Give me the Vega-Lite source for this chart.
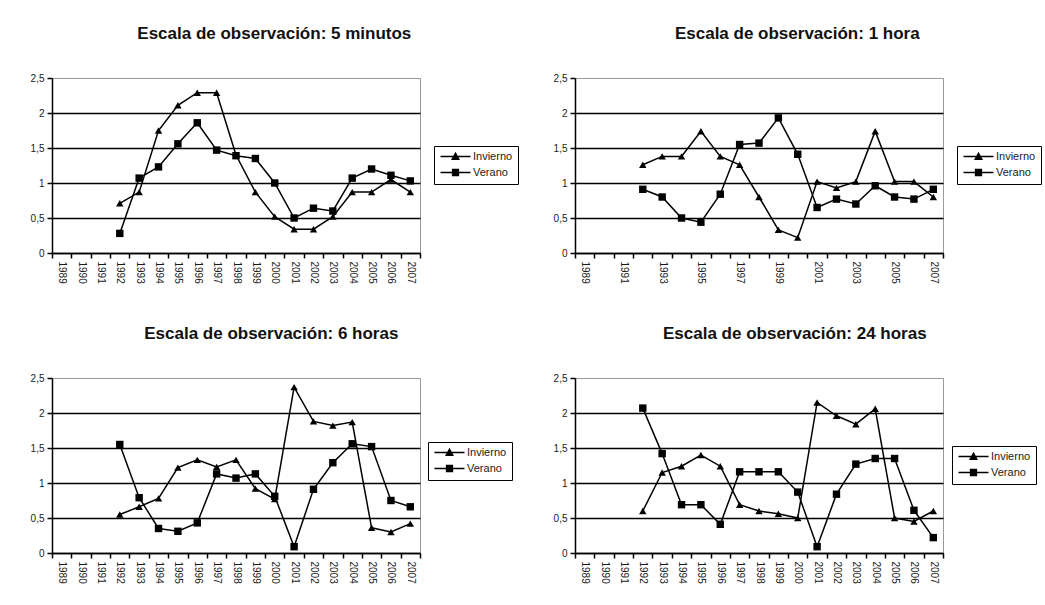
{
  "$schema": "https://vega.github.io/schema/vega-lite/v6.json",
  "padding": {"left": 29, "top": 24, "right": 0, "bottom": 0},
  "datasets": {
    "d": [
      {"p":1,"y":1992,"Invierno":0.71,"Verano":0.28},
      {"p":1,"y":1993,"Invierno":0.87,"Verano":1.07},
      {"p":1,"y":1994,"Invierno":1.75,"Verano":1.23},
      {"p":1,"y":1995,"Invierno":2.11,"Verano":1.56},
      {"p":1,"y":1996,"Invierno":2.29,"Verano":1.86},
      {"p":1,"y":1997,"Invierno":2.29,"Verano":1.47},
      {"p":1,"y":1998,"Invierno":1.40,"Verano":1.39},
      {"p":1,"y":1999,"Invierno":0.87,"Verano":1.35},
      {"p":1,"y":2000,"Invierno":0.52,"Verano":1.00},
      {"p":1,"y":2001,"Invierno":0.34,"Verano":0.50},
      {"p":1,"y":2002,"Invierno":0.34,"Verano":0.64},
      {"p":1,"y":2003,"Invierno":0.52,"Verano":0.60},
      {"p":1,"y":2004,"Invierno":0.87,"Verano":1.07},
      {"p":1,"y":2005,"Invierno":0.87,"Verano":1.20},
      {"p":1,"y":2006,"Invierno":1.05,"Verano":1.11},
      {"p":1,"y":2007,"Invierno":0.87,"Verano":1.03},
      {"p":2,"y":1992,"Invierno":1.26,"Verano":0.91},
      {"p":2,"y":1993,"Invierno":1.38,"Verano":0.80},
      {"p":2,"y":1994,"Invierno":1.38,"Verano":0.50},
      {"p":2,"y":1995,"Invierno":1.74,"Verano":0.44},
      {"p":2,"y":1996,"Invierno":1.38,"Verano":0.84},
      {"p":2,"y":1997,"Invierno":1.26,"Verano":1.55},
      {"p":2,"y":1998,"Invierno":0.80,"Verano":1.57},
      {"p":2,"y":1999,"Invierno":0.33,"Verano":1.93},
      {"p":2,"y":2000,"Invierno":0.22,"Verano":1.41},
      {"p":2,"y":2001,"Invierno":1.02,"Verano":0.65},
      {"p":2,"y":2002,"Invierno":0.93,"Verano":0.77},
      {"p":2,"y":2003,"Invierno":1.02,"Verano":0.70},
      {"p":2,"y":2004,"Invierno":1.74,"Verano":0.96},
      {"p":2,"y":2005,"Invierno":1.02,"Verano":0.80},
      {"p":2,"y":2006,"Invierno":1.02,"Verano":0.77},
      {"p":2,"y":2007,"Invierno":0.80,"Verano":0.91},
      {"p":3,"y":1992,"Invierno":0.55,"Verano":1.55},
      {"p":3,"y":1993,"Invierno":0.66,"Verano":0.79},
      {"p":3,"y":1994,"Invierno":0.78,"Verano":0.35},
      {"p":3,"y":1995,"Invierno":1.22,"Verano":0.31},
      {"p":3,"y":1996,"Invierno":1.33,"Verano":0.43},
      {"p":3,"y":1997,"Invierno":1.23,"Verano":1.13},
      {"p":3,"y":1998,"Invierno":1.33,"Verano":1.07},
      {"p":3,"y":1999,"Invierno":0.92,"Verano":1.13},
      {"p":3,"y":2000,"Invierno":0.77,"Verano":0.81},
      {"p":3,"y":2001,"Invierno":2.37,"Verano":0.09},
      {"p":3,"y":2002,"Invierno":1.88,"Verano":0.91},
      {"p":3,"y":2003,"Invierno":1.82,"Verano":1.29},
      {"p":3,"y":2004,"Invierno":1.87,"Verano":1.56},
      {"p":3,"y":2005,"Invierno":0.36,"Verano":1.52},
      {"p":3,"y":2006,"Invierno":0.30,"Verano":0.75},
      {"p":3,"y":2007,"Invierno":0.42,"Verano":0.66},
      {"p":4,"y":1992,"Invierno":0.60,"Verano":2.07},
      {"p":4,"y":1993,"Invierno":1.15,"Verano":1.42},
      {"p":4,"y":1994,"Invierno":1.24,"Verano":0.69},
      {"p":4,"y":1995,"Invierno":1.40,"Verano":0.69},
      {"p":4,"y":1996,"Invierno":1.24,"Verano":0.41},
      {"p":4,"y":1997,"Invierno":0.69,"Verano":1.16},
      {"p":4,"y":1998,"Invierno":0.60,"Verano":1.16},
      {"p":4,"y":1999,"Invierno":0.56,"Verano":1.16},
      {"p":4,"y":2000,"Invierno":0.50,"Verano":0.87},
      {"p":4,"y":2001,"Invierno":2.15,"Verano":0.09},
      {"p":4,"y":2002,"Invierno":1.96,"Verano":0.84},
      {"p":4,"y":2003,"Invierno":1.84,"Verano":1.27},
      {"p":4,"y":2004,"Invierno":2.06,"Verano":1.35},
      {"p":4,"y":2005,"Invierno":0.50,"Verano":1.35},
      {"p":4,"y":2006,"Invierno":0.45,"Verano":0.61},
      {"p":4,"y":2007,"Invierno":0.60,"Verano":0.22}
    ]
  },
  "data": {"name": "d"},
  "columns": 2,
  "spacing": {"row": 40, "column": 33},
  "resolve": {"scale": {"shape": "independent"}, "legend": {"shape": "independent"}},
  "concat": [
    {
      "title": "Escala de observación: 5 minutos",
      "width": 368, "height": 175,
      "transform": [{"filter": "datum.p == 1"}, {"fold": ["Invierno", "Verano"], "as": ["s", "v"]}],
      "encoding": {
        "x": {"field": "y", "type": "ordinal", "scale": {"type": "band", "domain": [1989,1990,1991,1992,1993,1994,1995,1996,1997,1998,1999,2000,2001,2002,2003,2004,2005,2006,2007], "paddingInner": 0, "paddingOuter": 0}, "axis": {"title": null, "labelAngle": 90, "tickBand": "extent"}},
        "y": {"field": "v", "type": "quantitative", "scale": {"domain": [0, 2.5]}, "axis": {"title": null, "values": [0,0.5,1,1.5,2,2.5], "format": "~g", "labelExpr": "replace(datum.label, '.', ',')", "grid": true, "gridColor": {"condition": {"test": "datum.value >= 2.5", "value": "#9a9a9a"}, "value": "black"}, "gridWidth": {"condition": {"test": "datum.value >= 2.5", "value": 1}, "value": 1.6}}}
      },
      "resolve": {"scale": {"shape": "independent"}, "legend": {"shape": "independent"}},
      "layer": [
        {"mark": {"type": "line", "color": "black", "strokeWidth": 1.5}, "encoding": {"detail": {"field": "s"}}},
        {"mark": {"type": "point", "filled": true, "color": "black", "size": 55, "opacity": 1},
         "encoding": {"shape": {"field": "s", "type": "nominal", "scale": {"domain": ["Invierno", "Verano"], "range": ["triangle-up", "square"]}, "legend": null}}},
        {"mark": {"type": "point", "filled": false, "color": "black", "strokeWidth": 1.3, "opacity": 0},
         "encoding": {"shape": {"field": "s", "type": "nominal", "scale": {"domain": ["Invierno", "Verano"], "range": ["M-3.75,0H3.75M-0.85,0.7L0,-0.85L0.85,0.7ZM-0.68,0.4H0.68M-0.52,0.1H0.52M-0.36,-0.2H0.36M-0.19,-0.5H0.19", "M-3.75,0H3.75M-0.75,-0.75H0.75V0.75H-0.75ZM-0.75,-0.45H0.75M-0.75,-0.15H0.75M-0.75,0.15H0.75M-0.75,0.45H0.75"]},
           "legend": {"orient": "none", "legendX": 382, "legendY": 68, "symbolOpacity": 1, "symbolStrokeColor": "black", "symbolStrokeWidth": 1.3}}}}
      ]
    },
    {
      "title": "Escala de observación: 1 hora",
      "width": 368, "height": 175,
      "transform": [{"filter": "datum.p == 2"}, {"fold": ["Invierno", "Verano"], "as": ["s", "v"]}],
      "encoding": {
        "x": {"field": "y", "type": "ordinal", "scale": {"type": "band", "domain": [1989,1990,1991,1992,1993,1994,1995,1996,1997,1998,1999,2000,2001,2002,2003,2004,2005,2006,2007], "paddingInner": 0, "paddingOuter": 0}, "axis": {"title": null, "labelAngle": 90, "tickBand": "extent", "labelExpr": "datum.value % 2 == 1 ? datum.label : ''"}},
        "y": {"field": "v", "type": "quantitative", "scale": {"domain": [0, 2.5]}, "axis": {"title": null, "values": [0,0.5,1,1.5,2,2.5], "format": "~g", "labelExpr": "replace(datum.label, '.', ',')", "grid": true, "gridColor": {"condition": {"test": "datum.value >= 2.5", "value": "#9a9a9a"}, "value": "black"}, "gridWidth": {"condition": {"test": "datum.value >= 2.5", "value": 1}, "value": 1.6}}}
      },
      "resolve": {"scale": {"shape": "independent"}, "legend": {"shape": "independent"}},
      "layer": [
        {"mark": {"type": "line", "color": "black", "strokeWidth": 1.5}, "encoding": {"detail": {"field": "s"}}},
        {"mark": {"type": "point", "filled": true, "color": "black", "size": 55, "opacity": 1},
         "encoding": {"shape": {"field": "s", "type": "nominal", "scale": {"domain": ["Invierno", "Verano"], "range": ["triangle-up", "square"]}, "legend": null}}},
        {"mark": {"type": "point", "filled": false, "color": "black", "strokeWidth": 1.3, "opacity": 0},
         "encoding": {"shape": {"field": "s", "type": "nominal", "scale": {"domain": ["Invierno", "Verano"], "range": ["M-3.75,0H3.75M-0.85,0.7L0,-0.85L0.85,0.7ZM-0.68,0.4H0.68M-0.52,0.1H0.52M-0.36,-0.2H0.36M-0.19,-0.5H0.19", "M-3.75,0H3.75M-0.75,-0.75H0.75V0.75H-0.75ZM-0.75,-0.45H0.75M-0.75,-0.15H0.75M-0.75,0.15H0.75M-0.75,0.45H0.75"]},
           "legend": {"orient": "none", "legendX": 382, "legendY": 68, "symbolOpacity": 1, "symbolStrokeColor": "black", "symbolStrokeWidth": 1.3}}}}
      ]
    },
    {
      "title": "Escala de observación: 6 horas",
      "width": 368, "height": 175,
      "transform": [{"filter": "datum.p == 3"}, {"fold": ["Invierno", "Verano"], "as": ["s", "v"]}],
      "encoding": {
        "x": {"field": "y", "type": "ordinal", "scale": {"type": "band", "domain": [1989,1990,1991,1992,1993,1994,1995,1996,1997,1998,1999,2000,2001,2002,2003,2004,2005,2006,2007], "paddingInner": 0, "paddingOuter": 0}, "axis": {"title": null, "labelAngle": 90, "tickBand": "extent"}},
        "y": {"field": "v", "type": "quantitative", "scale": {"domain": [0, 2.5]}, "axis": {"title": null, "values": [0,0.5,1,1.5,2,2.5], "format": "~g", "labelExpr": "replace(datum.label, '.', ',')", "grid": true, "gridColor": {"condition": {"test": "datum.value >= 2.5", "value": "#9a9a9a"}, "value": "black"}, "gridWidth": {"condition": {"test": "datum.value >= 2.5", "value": 1}, "value": 1.6}}}
      },
      "resolve": {"scale": {"shape": "independent"}, "legend": {"shape": "independent"}},
      "layer": [
        {"mark": {"type": "line", "color": "black", "strokeWidth": 1.5}, "encoding": {"detail": {"field": "s"}}},
        {"mark": {"type": "point", "filled": true, "color": "black", "size": 55, "opacity": 1},
         "encoding": {"shape": {"field": "s", "type": "nominal", "scale": {"domain": ["Invierno", "Verano"], "range": ["triangle-up", "square"]}, "legend": null}}},
        {"mark": {"type": "point", "filled": false, "color": "black", "strokeWidth": 1.3, "opacity": 0},
         "encoding": {"shape": {"field": "s", "type": "nominal", "scale": {"domain": ["Invierno", "Verano"], "range": ["M-3.75,0H3.75M-0.85,0.7L0,-0.85L0.85,0.7ZM-0.68,0.4H0.68M-0.52,0.1H0.52M-0.36,-0.2H0.36M-0.19,-0.5H0.19", "M-3.75,0H3.75M-0.75,-0.75H0.75V0.75H-0.75ZM-0.75,-0.45H0.75M-0.75,-0.15H0.75M-0.75,0.15H0.75M-0.75,0.45H0.75"]},
           "legend": {"orient": "none", "legendX": 376, "legendY": 64, "symbolOpacity": 1, "symbolStrokeColor": "black", "symbolStrokeWidth": 1.3}}}}
      ]
    },
    {
      "title": "Escala de observación: 24 horas",
      "width": 368, "height": 175,
      "transform": [{"filter": "datum.p == 4"}, {"fold": ["Invierno", "Verano"], "as": ["s", "v"]}],
      "encoding": {
        "x": {"field": "y", "type": "ordinal", "scale": {"type": "band", "domain": [1989,1990,1991,1992,1993,1994,1995,1996,1997,1998,1999,2000,2001,2002,2003,2004,2005,2006,2007], "paddingInner": 0, "paddingOuter": 0}, "axis": {"title": null, "labelAngle": 90, "tickBand": "extent"}},
        "y": {"field": "v", "type": "quantitative", "scale": {"domain": [0, 2.5]}, "axis": {"title": null, "values": [0,0.5,1,1.5,2,2.5], "format": "~g", "labelExpr": "replace(datum.label, '.', ',')", "grid": true, "gridColor": {"condition": {"test": "datum.value >= 2.5", "value": "#9a9a9a"}, "value": "black"}, "gridWidth": {"condition": {"test": "datum.value >= 2.5", "value": 1}, "value": 1.6}}}
      },
      "resolve": {"scale": {"shape": "independent"}, "legend": {"shape": "independent"}},
      "layer": [
        {"mark": {"type": "line", "color": "black", "strokeWidth": 1.5}, "encoding": {"detail": {"field": "s"}}},
        {"mark": {"type": "point", "filled": true, "color": "black", "size": 55, "opacity": 1},
         "encoding": {"shape": {"field": "s", "type": "nominal", "scale": {"domain": ["Invierno", "Verano"], "range": ["triangle-up", "square"]}, "legend": null}}},
        {"mark": {"type": "point", "filled": false, "color": "black", "strokeWidth": 1.3, "opacity": 0},
         "encoding": {"shape": {"field": "s", "type": "nominal", "scale": {"domain": ["Invierno", "Verano"], "range": ["M-3.75,0H3.75M-0.85,0.7L0,-0.85L0.85,0.7ZM-0.68,0.4H0.68M-0.52,0.1H0.52M-0.36,-0.2H0.36M-0.19,-0.5H0.19", "M-3.75,0H3.75M-0.75,-0.75H0.75V0.75H-0.75ZM-0.75,-0.45H0.75M-0.75,-0.15H0.75M-0.75,0.15H0.75M-0.75,0.45H0.75"]},
           "legend": {"orient": "none", "legendX": 377, "legendY": 68, "symbolOpacity": 1, "symbolStrokeColor": "black", "symbolStrokeWidth": 1.3}}}}
      ]
    }
  ],
  "config": {
    "font": "Liberation Sans",
    "view": {"stroke": "#9a9a9a", "strokeWidth": 1},
    "title": {"fontSize": 17, "fontWeight": "bold", "color": "#111111", "frame": "bounds", "anchor": "middle", "offset": 30},
    "axis": {"domainColor": "black", "domainWidth": 1.5, "tickColor": "black", "tickWidth": 1.5, "tickSize": 5, "labelColor": "#1a1a1a", "labelFontSize": 10, "labelPadding": 3},
    "legend": {
      "title": null,
      "strokeColor": "black",
      "padding": 5,
      "symbolSize": 64,
      "symbolOffset": 11,
      "labelOffset": 12,
      "labelFontSize": 11,
      "labelColor": "#1a1a1a",
      "rowPadding": 4,
      "labelLimit": 200
    }
  }
}
